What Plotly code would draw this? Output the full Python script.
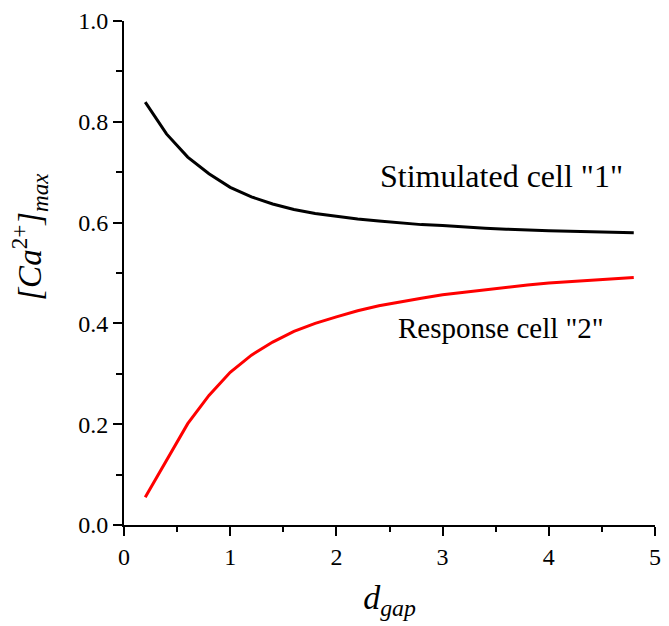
import plotly.graph_objects as go

d_gap = [0.2, 0.4, 0.6, 0.8, 1.0, 1.2, 1.4, 1.6, 1.8, 2.0, 2.2, 2.4, 2.6, 2.8, 3.0,
         3.2, 3.4, 3.6, 3.8, 4.0, 4.2, 4.4, 4.6, 4.8]
stimulated = [0.839, 0.776, 0.730, 0.697, 0.670, 0.651, 0.637, 0.626, 0.618, 0.612,
              0.607, 0.603, 0.599, 0.596, 0.594, 0.591, 0.589, 0.587, 0.585, 0.584,
              0.583, 0.582, 0.581, 0.580]
response = [0.055, 0.128, 0.201, 0.257, 0.303, 0.337, 0.363, 0.384, 0.400, 0.413,
            0.425, 0.435, 0.443, 0.450, 0.457, 0.462, 0.467, 0.472, 0.476, 0.480,
            0.483, 0.486, 0.489, 0.491]

FONT = "'Liberation Serif', 'Times New Roman', Times, serif"

fig = go.Figure()
fig.add_trace(go.Scatter(x=d_gap, y=stimulated, mode="lines",
                         line=dict(color="black", width=3), name='Stimulated cell "1"'))
fig.add_trace(go.Scatter(x=d_gap, y=response, mode="lines",
                         line=dict(color="#ff0000", width=3), name='Response cell "2"'))

fig.add_annotation(x=3.555, y=0.693, xref="x", yref="y", text='Stimulated cell "1"',
                   showarrow=False, font=dict(family=FONT, size=32, color="black"))
fig.add_annotation(x=3.55, y=0.391, xref="x", yref="y", text='Response cell "2"',
                   showarrow=False, font=dict(family=FONT, size=29, color="black"))

# y-axis title as rotated annotation (placed like the reference, above centre)
fig.add_annotation(x=-0.177, y=0.572, xref="paper", yref="paper",
                   text="<i>[Ca</i><sup>2+</sup><i>]</i><sub><i>max</i></sub>",
                   textangle=-90, showarrow=False, xanchor="center", yanchor="middle",
                   font=dict(family=FONT, size=33, color="black"))

axis_common = dict(showline=True, linecolor="black", linewidth=2, showgrid=False,
                   zeroline=False, ticks="outside", tickcolor="black", tickwidth=2,
                   ticklen=9, tickfont=dict(family=FONT, size=24, color="black"),
                   mirror=False)

fig.update_xaxes(range=[0, 5], tickvals=[0, 1, 2, 3, 4, 5], ticktext=["0", "1", "2", "3", "4", "5"],
                 minor=dict(tickvals=[0.5, 1.5, 2.5, 3.5, 4.5], ticks="outside", ticklen=5,
                            tickwidth=2, tickcolor="black"),
                 title=dict(text="<i>d</i><sub><i>gap</i></sub>", font=dict(family=FONT, size=34, color="black"),
                            standoff=16),
                 **axis_common)
fig.update_yaxes(range=[0, 1.0], tickvals=[0, 0.2, 0.4, 0.6, 0.8, 1.0],
                 ticktext=["0.0", "0.2", "0.4", "0.6", "0.8", "1.0"],
                 minor=dict(tickvals=[0.1, 0.3, 0.5, 0.7, 0.9], ticks="outside", ticklen=6,
                            tickwidth=2, tickcolor="black"),
                 **axis_common)

fig.update_layout(width=669, height=626, margin=dict(l=124, r=8, t=18, b=101),
                  paper_bgcolor="white", plot_bgcolor="white", showlegend=False,
                  font=dict(family=FONT, color="black"))

fig.write_html("out.html")
